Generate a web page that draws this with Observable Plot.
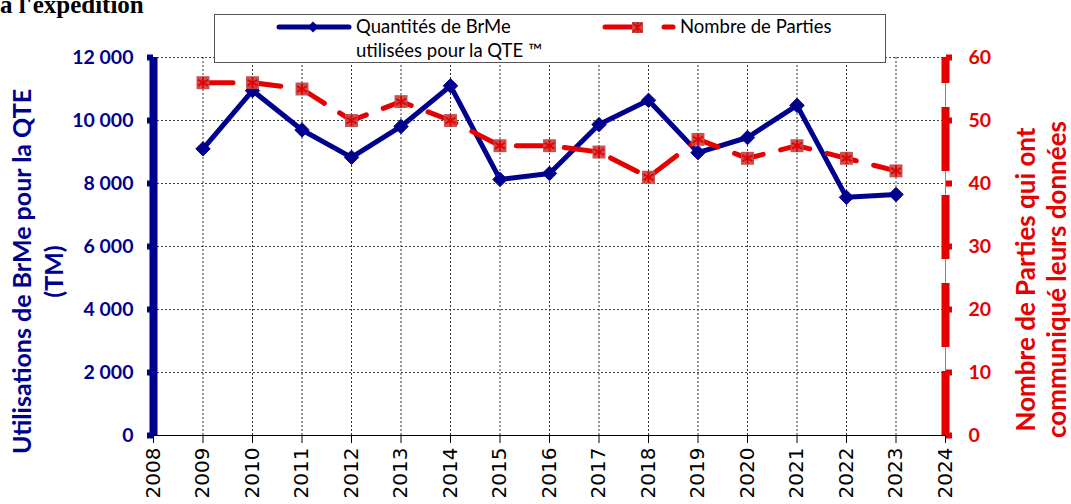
<!DOCTYPE html>
<html><head><meta charset="utf-8">
<script src="https://cdn.jsdelivr.net/npm/d3@7"></script>
<script src="https://cdn.jsdelivr.net/npm/@observablehq/plot@0.6"></script>
<style>
body{margin:0;background:#fff;}
#wrap{position:relative;width:1071px;height:504px;overflow:hidden;}
#title{position:absolute;left:0;top:-8px;font:bold 25px "Liberation Serif";line-height:25px;white-space:nowrap;color:#000;}
#legend{position:absolute;left:214px;top:14px;width:670px;height:47px;border:1px solid #555;background:#fff;}
#legend svg{display:block;}
</style></head><body>
<div id="wrap"><div id="chart"></div><div id="title">à l'expédition</div><div id="legend"></div></div>
<script>
const years = [2009,2010,2011,2012,2013,2014,2015,2016,2017,2018,2019,2020,2021,2022,2023];
const brme = [9100,10950,9700,8830,9810,11100,8130,8320,9870,10640,8980,9460,10480,7560,7650];
const parties = [56,56,55,50,53,50,46,46,45,41,47,44,46,44,42];
const xTicks = [2008,2009,2010,2011,2012,2013,2014,2015,2016,2017,2018,2019,2020,2021,2022,2023,2024];
const yTicks = [0,2000,4000,6000,8000,10000,12000];
const rightTicks = [0,10,20,30,40,50,60];
const leftTitle = ["Utilisations de BrMe pour la QTE", "(TM)"];
const rightTitle = ["Nombre de Parties qui ont", "communiqué leurs données"];
const legendLabels = ["Quantités de BrMe", "utilisées pour la QTE ™", "Nombre de Parties"];

const BLUE = "#00008f", RED = "#e60000";
const ratio = 12000 / 60; // secondary axis mapping (60 Parties = 12 000 TM)
const data = years.map((y, i) => ({year: y, brme: brme[i], parties: parties[i]}));
const fr = d3.formatLocale({decimal: ",", thousands: " ", grouping: [3]}).format(",d");
const titleStyle = {rotate: -90, textAnchor: "middle", fontWeight: "bold", fontFamily: "Lato"};

const chart = Plot.plot({
  width: 1071, height: 504,
  marginTop: 57, marginBottom: 69, marginLeft: 153, marginRight: 126,
  x: {type: "linear", domain: [2008, 2024]},
  y: {domain: [0, 12000]},
  style: {background: "transparent"},
  marks: [
    Plot.ruleY(yTicks.slice(1), {stroke: "#444", strokeWidth: 1, strokeDasharray: "2,2"}),
    Plot.ruleX(xTicks.slice(1, -1), {stroke: "#333", strokeWidth: 1, strokeDasharray: "2,2"}),
    Plot.ruleX([2024], {stroke: "#888", strokeWidth: 1}),
    Plot.axisX({ticks: xTicks, tickFormat: d => String(d), tickRotate: -90, tickSize: 8, tickPadding: 4,
      fontSize: 20, fontFamily: "DejaVu Sans", fill: "#000", stroke: "#000", label: null}),
    Plot.ruleY([0], {stroke: "#000", strokeWidth: 1.2}),
    Plot.ruleX([2008], {stroke: BLUE, strokeWidth: 8}),
    Plot.axisY({anchor: "left", ticks: yTicks, tickFormat: fr, tickSize: 6, tickPadding: 14, strokeWidth: 6,
      stroke: BLUE, fill: BLUE, fontSize: 19.5, fontWeight: "bold", fontFamily: "Lato", label: null}),
    Plot.ruleX([2024], {y1: 0, y2: 12000, stroke: RED, strokeWidth: 8, strokeDasharray: "64,24"}),
    Plot.axisY({anchor: "right", ticks: yTicks, tickFormat: d => d / ratio, tickSize: 6, tickPadding: 17, strokeWidth: 6,
      stroke: RED, fill: RED, fontSize: 19.5, fontWeight: "bold", fontFamily: "Lato", label: null}),
    Plot.text([leftTitle[0]], {frameAnchor: "left", dx: -131, dy: 25, fill: BLUE, fontSize: 25, ...titleStyle}),
    Plot.text([leftTitle[1]], {frameAnchor: "left", dx: -99, dy: 25, fill: BLUE, fontSize: 25, ...titleStyle}),
    Plot.text([rightTitle[0]], {frameAnchor: "right", dx: 81, dy: 33, fill: RED, fontSize: 26, ...titleStyle}),
    Plot.text([rightTitle[1]], {frameAnchor: "right", dx: 112, dy: 33, fill: RED, fontSize: 26, ...titleStyle}),
    Plot.line(data, {x: "year", y: "brme", stroke: BLUE, strokeWidth: 5, strokeLinejoin: "round"}),
    Plot.dot(data, {x: "year", y: "brme", symbol: "diamond2", r: 6.5, fill: BLUE, stroke: BLUE, strokeWidth: 1}),
    Plot.line(data, {x: "year", y: d => d.parties * ratio, stroke: RED, strokeWidth: 5, strokeDasharray: "30,18", strokeLinecap: "round"}),
    Plot.dot(data, {x: "year", y: d => d.parties * ratio, symbol: "square", r: 7.3, fill: "#c44a4a", fillOpacity: 0.95, stroke: "none"}),
    Plot.dot(data, {x: "year", y: d => d.parties * ratio, symbol: "asterisk", r: 5.5, stroke: RED, strokeWidth: 1.8})
  ]
});
document.getElementById("chart").appendChild(chart);

// legend
const svg = d3.select("#legend").append("svg").attr("width", 670).attr("height", 47);
svg.append("line").attr("x1", 64).attr("x2", 134).attr("y1", 12).attr("y2", 12)
  .attr("stroke", BLUE).attr("stroke-width", 5).attr("stroke-linecap", "round");
svg.append("path").attr("d", d3.symbol(d3.symbolSquare, 60)()).attr("transform", "translate(98,12) rotate(45)").attr("fill", BLUE);
svg.append("text").attr("x", 141).attr("y", 18).text(legendLabels[0]).attr("font-family", "Lato").attr("font-size", 18.5).attr("fill", "#000");
svg.append("text").attr("x", 141).attr("y", 42).text(legendLabels[1]).attr("font-family", "Lato").attr("font-size", 18.5).attr("fill", "#000");
svg.append("line").attr("x1", 390).attr("x2", 420).attr("y1", 12).attr("y2", 12)
  .attr("stroke", RED).attr("stroke-width", 5).attr("stroke-linecap", "round");
svg.append("rect").attr("x", 417).attr("y", 7).attr("width", 11).attr("height", 11).attr("fill", "#c44a4a");
svg.append("path").attr("d", "M418,8L427,17M427,8L418,17M422.5,7V18").attr("stroke", RED).attr("stroke-width", 1.5);
svg.append("line").attr("x1", 449).attr("x2", 458).attr("y1", 12).attr("y2", 12)
  .attr("stroke", RED).attr("stroke-width", 5).attr("stroke-linecap", "round");
svg.append("text").attr("x", 465).attr("y", 18).text(legendLabels[2]).attr("font-family", "Lato").attr("font-size", 18.5).attr("fill", "#000");
</script>
</body></html>
